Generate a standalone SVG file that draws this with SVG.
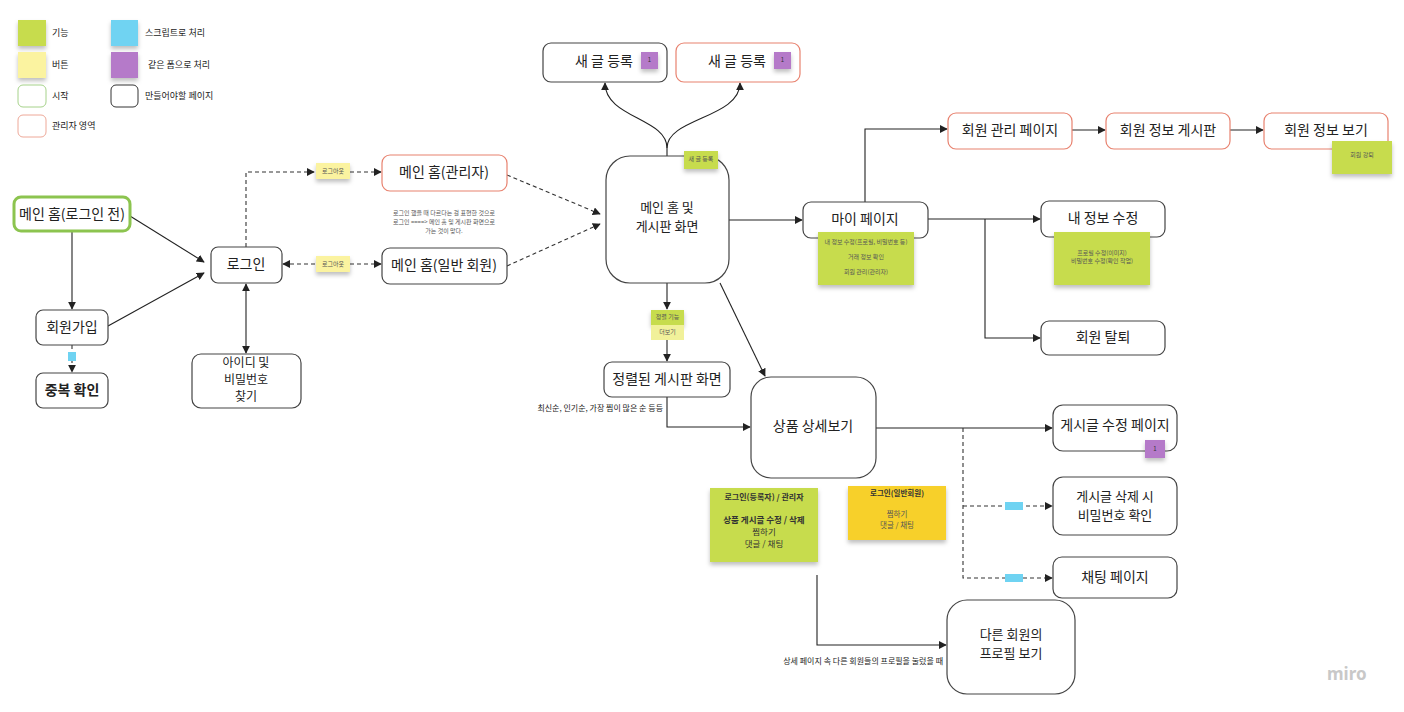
<svg xmlns="http://www.w3.org/2000/svg" width="1404" height="712" viewBox="0 0 1404 712">
<defs>
<marker id="ar" viewBox="0 0 10 10" refX="9" refY="5" markerWidth="8" markerHeight="8" orient="auto-start-reverse" markerUnits="userSpaceOnUse"><path d="M0,0 L10,5 L0,10 z" fill="#222"/></marker>
<filter id="sh" x="-20%" y="-20%" width="140%" height="160%"><feDropShadow dx="0" dy="3" stdDeviation="2" flood-color="#000" flood-opacity="0.25"/></filter>
</defs>
<style>
text{font-family:"Noto Sans CJK KR","Noto Sans",sans-serif;fill:#222}
.n{fill:#fff;stroke:#444;stroke-width:1.2}
.r{fill:#fff;stroke:#e8826f;stroke-width:1.2}
.t{font-size:14px;text-anchor:middle}
.m{font-size:13px;text-anchor:middle}
.k{font-size:12px;text-anchor:middle}
.s{font-size:6px;text-anchor:middle;fill:#555}
.lg{font-size:9px}
.c{fill:none;stroke:#222;stroke-width:1.1}
.d{fill:none;stroke:#333;stroke-width:1.1;stroke-dasharray:4 3}
.g{fill:#c7dc4e;filter:url(#sh)}
.y{fill:#fbf3a0;filter:url(#sh)}
.o{fill:#f7d02c;filter:url(#sh)}
.b{fill:#6fd3f2}
.p{fill:#b57ac9;filter:url(#sh)}
</style>
<rect width="1404" height="712" fill="#fff"/>

<g id="legend">
<rect x="18" y="20" width="28" height="26" class="g"/>
<rect x="18" y="52" width="28" height="26" class="y"/>
<rect x="18" y="85" width="28" height="22" rx="5" fill="#fff" stroke="#a6d28a"/>
<rect x="18" y="115" width="28" height="22" rx="5" fill="#fff" stroke="#eea898"/>
<rect x="111" y="20" width="27" height="26" fill="#6fd3f2" filter="url(#sh)"/>
<rect x="111" y="52" width="27" height="26" class="p"/>
<rect x="111" y="85" width="27" height="22" rx="5" fill="#fff" stroke="#333"/>
<text x="52" y="36" class="lg">기능</text>
<text x="52" y="68" class="lg">버튼</text>
<text x="52" y="99" class="lg">시작</text>
<text x="52" y="129" class="lg">관리자 영역</text>
<text x="145" y="36" class="lg">스크립트로 처리</text>
<text x="148" y="68" class="lg">같은 폼으로 처리</text>
<text x="145" y="99" class="lg">만들어야할 페이지</text>
</g>

<g id="connectors">
<path class="c" d="M130,216 L204,262" marker-end="url(#ar)"/>
<path class="c" d="M72,231 L72,309" marker-end="url(#ar)"/>
<path class="c" d="M108,326 L204,273" marker-end="url(#ar)"/>
<path class="d" d="M72,345 L72,372" marker-end="url(#ar)"/>
<path class="c" d="M246,284 L246,353" marker-start="url(#ar)" marker-end="url(#ar)"/>
<path class="d" d="M246,247 L246,172 L314,172" marker-end="url(#ar)"/>
<path class="d" d="M350,172 L381,172" marker-end="url(#ar)"/>
<path class="d" d="M315,264 L283,264" marker-end="url(#ar)"/>
<path class="d" d="M350,264 L381,264" marker-end="url(#ar)"/>
<path class="d" d="M507,175 L600,214" marker-end="url(#ar)"/>
<path class="d" d="M507,266 L600,224" marker-end="url(#ar)"/>
<path class="c" d="M667,156 L667,148 C667,118 605,118 605,83" marker-end="url(#ar)"/>
<path class="c" d="M667,148 C667,118 740,118 740,83" marker-end="url(#ar)"/>
<path class="c" d="M729,220 L802,220" marker-end="url(#ar)"/>
<path class="c" d="M667,283 L667,309" marker-end="url(#ar)"/>
<path class="c" d="M667,340 L667,361" marker-end="url(#ar)"/>
<path class="c" d="M720,283 L765,376" marker-end="url(#ar)"/>
<path class="c" d="M667,397 L667,427 L750,427" marker-end="url(#ar)"/>
<path class="c" d="M865,202 L865,129 L947,129" marker-end="url(#ar)"/>
<path class="c" d="M1072,130 L1105,130" marker-end="url(#ar)"/>
<path class="c" d="M1230,130 L1263,130" marker-end="url(#ar)"/>
<path class="c" d="M928,219 L1040,219" marker-end="url(#ar)"/>
<path class="c" d="M985,219 L985,338 L1040,338" marker-end="url(#ar)"/>
<path class="c" d="M876,428 L1052,428" marker-end="url(#ar)"/>
<path class="d" d="M963,428 L963,578 L1052,578" marker-end="url(#ar)"/>
<path class="d" d="M963,506 L1052,506" marker-end="url(#ar)"/>
<path class="c" d="M817,575 L817,645 L946,645" marker-end="url(#ar)"/>
</g>

<g id="start">
<rect x="14" y="197" width="116" height="34" rx="7" fill="#fff" stroke="#8cc44f" stroke-width="3"/>
<text x="72" y="219" class="t">메인  홈(로그인 전)</text>
</g>
<g id="signup">
<rect x="36" y="310" width="72" height="35" rx="7" class="n"/>
<text x="72" y="332" class="t">회원가입</text>
</g>
<g id="dupcheck">
<rect x="36" y="373" width="72" height="35" rx="7" class="n"/>
<text x="72" y="395" class="t" font-weight="bold">중복 확인</text>
<rect x="68" y="352" width="8" height="9" class="b"/>
</g>
<g id="login">
<rect x="211" y="247" width="71" height="36" rx="7" class="n"/>
<text x="246" y="269" class="t">로그인</text>
</g>
<g id="findid">
<rect x="192" y="354" width="109" height="54" rx="9" class="n"/>
<text x="246" y="367" class="k">아이디 및</text>
<text x="246" y="384" class="k">비밀번호</text>
<text x="246" y="401" class="k">찾기</text>
</g>
<g id="logout1">
<rect x="316" y="163" width="34" height="16" class="y"/>
<text x="333" y="173" class="s">로그아웃</text>
</g>
<g id="logout2">
<rect x="316" y="256" width="34" height="16" class="y"/>
<text x="333" y="266" class="s">로그아웃</text>
</g>
<g id="adminhome">
<rect x="382" y="155" width="125" height="36" rx="8" class="r"/>
<text x="444" y="177" class="t">메인 홈(관리자)</text>
</g>
<g id="note1">
<text x="444" y="215" class="s">로그인 했을 때 다르다는 걸 표현한 것으로</text>
<text x="444" y="224" class="s">로그인 ====&gt; 메인 홈 및 게시판 화면으로</text>
<text x="444" y="233" class="s">가는 것이 맞다.</text>
</g>
<g id="userhome">
<rect x="382" y="248" width="125" height="36" rx="8" class="n"/>
<text x="444" y="270" class="t">메인 홈(일반 회원)</text>
</g>
<g id="mainboard">
<rect x="606" y="156" width="123" height="127" rx="24" class="n"/>
<text x="667" y="212" class="m">메인 홈 및</text>
<text x="667" y="231" class="m">게시판 화면</text>
<rect x="684" y="151" width="34" height="18" class="g"/>
<text x="701" y="161" class="s">새 글 등록</text>
</g>
<g id="newpost1">
<rect x="543" y="43" width="124" height="39" rx="8" class="n"/>
<text x="604" y="66" class="t">새 글 등록</text>
<rect x="641" y="52" width="17" height="17" class="p"/>
<text x="649.5" y="62" class="s" style="fill:#333">1</text>
</g>
<g id="newpost2">
<rect x="676" y="43" width="124" height="39" rx="8" class="r"/>
<text x="737" y="66" class="t">새 글 등록</text>
<rect x="774" y="52" width="17" height="17" class="p"/>
<text x="782.5" y="62" class="s" style="fill:#333">1</text>
</g>
<g id="sortnote">
<rect x="651" y="310" width="33" height="15" class="g"/>
<rect x="651" y="325" width="33" height="15" fill="#f1f19a"/>
<text x="667.5" y="319" class="s">정렬 기능</text>
<text x="667.5" y="334" class="s">더보기</text>
</g>
<g id="sorted">
<rect x="604" y="362" width="126" height="35" rx="8" class="n"/>
<text x="667" y="384" class="t">정렬된 게시판 화면</text>
<text x="663" y="411" style="font-size:8px;text-anchor:end">최신순, 인기순, 가장 찜이 많은 순 등등</text>
</g>
<g id="detail">
<rect x="751" y="377" width="125" height="101" rx="20" class="n"/>
<text x="813" y="431" class="t">상품 상세보기</text>
</g>
<g id="mypage">
<rect x="803" y="202" width="125" height="36" rx="8" class="n"/>
<text x="865" y="224" class="t">마이 페이지</text>
<rect x="818" y="232" width="96" height="53" class="g"/>
<text x="866" y="244" class="s">내 정보 수정(프로필, 비밀번호 등)</text>
<text x="866" y="259" class="s">거래 정보 확인</text>
<text x="866" y="274" class="s">회원 관리(관리자)</text>
</g>
<g id="memberadmin">
<rect x="948" y="113" width="124" height="36" rx="8" class="r"/>
<text x="1010" y="135" class="t">회원 관리 페이지</text>
</g>
<g id="memberboard">
<rect x="1106" y="113" width="124" height="36" rx="8" class="r"/>
<text x="1168" y="135" class="t">회원 정보 게시판</text>
</g>
<g id="memberview">
<rect x="1264" y="113" width="124" height="36" rx="8" class="r"/>
<text x="1326" y="135" class="t">회원 정보 보기</text>
<rect x="1332" y="141" width="60" height="33" class="g"/>
<text x="1362" y="157" class="s">회원 강퇴</text>
</g>
<g id="editinfo">
<rect x="1041" y="201" width="124" height="36" rx="8" class="n"/>
<text x="1103" y="223" class="t">내 정보 수정</text>
<rect x="1054" y="232" width="96" height="53" class="g"/>
<text x="1102" y="255" class="s">프로필 수정(이미지)</text>
<text x="1102" y="263" class="s">비밀번호 수정(확인 작업)</text>
</g>
<g id="withdraw">
<rect x="1041" y="321" width="124" height="34" rx="8" class="n"/>
<text x="1103" y="342" class="t">회원 탈퇴</text>
</g>
<g id="editpost">
<rect x="1053" y="405" width="124" height="46" rx="10" class="n"/>
<text x="1115" y="430" class="t">게시글 수정 페이지</text>
<rect x="1145" y="440" width="20" height="18" class="p"/>
<text x="1155" y="451" class="s" style="fill:#333">1</text>
</g>
<g id="deletepost">
<rect x="1053" y="477" width="124" height="58" rx="10" class="n"/>
<text x="1115" y="501" class="m">게시글 삭제 시</text>
<text x="1115" y="520" class="m">비밀번호 확인</text>
<rect x="1005" y="502" width="18" height="8" class="b"/>
</g>
<g id="chat">
<rect x="1053" y="557" width="124" height="41" rx="9" class="n"/>
<text x="1115" y="582" class="t">채팅 페이지</text>
<rect x="1005" y="574" width="18" height="8" class="b"/>
</g>
<g id="note2">
<rect x="710" y="488" width="108" height="74" class="g"/>
<text x="764" y="500" class="s" style="font-size:8px;fill:#333;font-weight:bold">로그인(등록자) / 관리자</text>
<text x="764" y="523" class="s" style="font-size:8.5px;fill:#333;font-weight:bold">상품  게시글 수정 / 삭제</text>
<text x="764" y="535" class="s" style="font-size:8.5px;fill:#333">찜하기</text>
<text x="764" y="547" class="s" style="font-size:8.5px;fill:#333">댓글 / 채팅</text>
</g>
<g id="note3">
<rect x="848" y="486" width="98" height="54" class="o"/>
<text x="897" y="496" class="s" style="font-size:7.5px;fill:#333;font-weight:bold">로그인(일반회원)</text>
<text x="897" y="517" class="s" style="font-size:7.5px">찜하기</text>
<text x="897" y="528" class="s" style="font-size:7.5px">댓글 / 채팅</text>
</g>
<g id="profile">
<rect x="947" y="600" width="128" height="94" rx="20" class="n"/>
<text x="1011" y="639" class="m">다른 회원의</text>
<text x="1011" y="658" class="m">프로필 보기</text>
<text x="943" y="664" style="font-size:8px;text-anchor:end">상세 페이지 속 다른 회원들의 프로필을 눌렀을 때</text>
</g>
<text x="1327" y="680" style="font-size:17px;font-weight:bold;fill:#c8c8c8;font-family:'Noto Sans',sans-serif">miro</text>
</svg>
